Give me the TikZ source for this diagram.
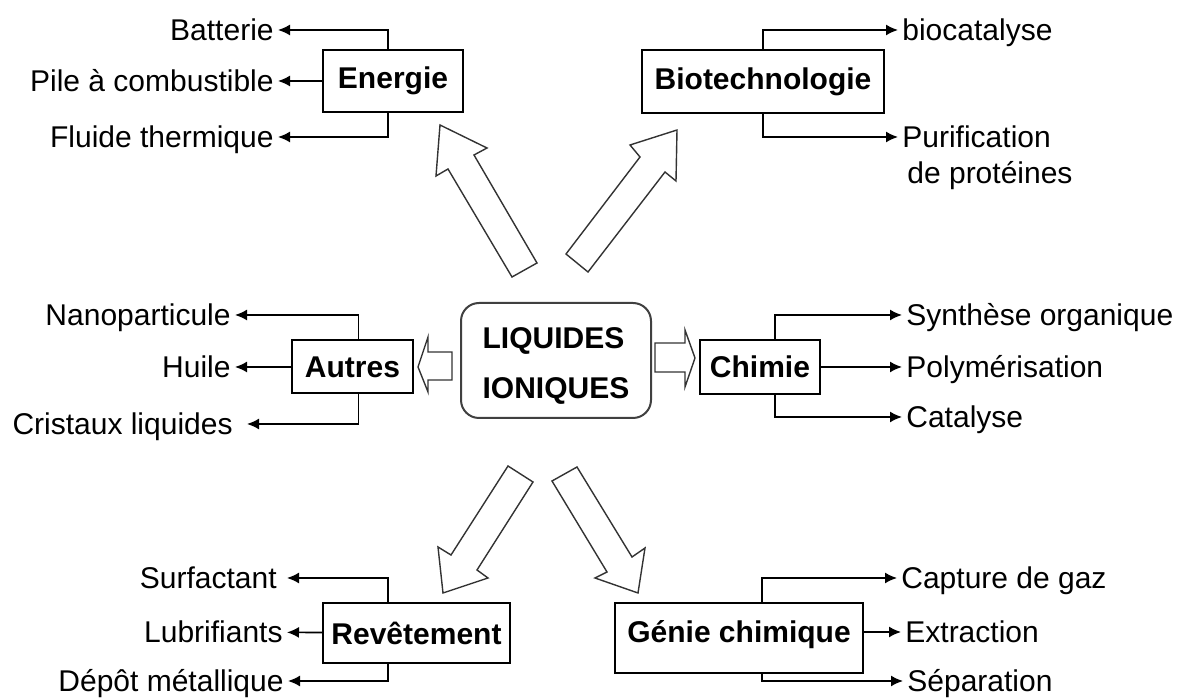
\documentclass[tikz,border=0pt]{standalone}
\usepackage{fontspec}
\setmainfont{Liberation Sans}
\usetikzlibrary{arrows.meta,positioning,calc}

\begin{document}
\begin{tikzpicture}
[x=.5pt,y=-.5pt,font=\fontsize{15}{18}\selectfont,
box/.style={draw,line width=1pt,font=\fontsize{15}{18}\selectfont\bfseries,inner sep=0pt},
lbl/.style={inner sep=2pt,text height=10.7pt,text depth=0pt},
branch/.style={line width=.8pt,-{Latex[length=6pt,width=5.5pt]}},
fat/.style={draw=black!80,line width=.7pt,fill=white,line join=miter}]
%%%%%%%%%%
\useasboundingbox (0,0) rectangle (1184,699);

% centre
\node[box,draw=black!75,rounded corners=9pt,minimum width=95pt,minimum height=57.5pt,
  align=left,font=\fontsize{15}{25}\selectfont\bfseries] (liq) at (556,360.5)
  {\rule{0pt}{16pt}LIQUIDES\\IONIQUES};

% boxes
\node[box,minimum width=70pt,minimum height=31pt] (energie) at (393,81) {Energie};
\node[box,minimum width=121pt,minimum height=31.5pt] (biotech) at (763,81.5) {Biotechnologie};
\node[box,minimum width=60.5pt,minimum height=26.5pt] (autres) at (352.5,367) {Autres};
\node[box,minimum width=60pt,minimum height=27pt] (chimie) at (760,367) {Chimie};
\node[box,minimum width=93.5pt,minimum height=30pt] (revet) at (416.5,633) {Revêtement};
\node[box,minimum width=124pt,minimum height=35pt,text height=10.7pt,text depth=6pt] (genie) at (739,638) {Génie chimique};

% labels
\node[lbl,anchor=east] (batterie) at (278,30) {Batterie};
\node[lbl,anchor=east] (pile) at (278,81) {Pile à combustible};
\node[lbl,anchor=east] (fluide) at (278,137) {Fluide thermique};

\node[lbl,anchor=west] (bio) at (898,30) {biocatalyse};
\node[lbl,anchor=west] (puri) at (898,137) {Purification};
\node[lbl,below right=2.8pt and 2.5pt of puri.south west] (prot) {de protéines};

\node[lbl,anchor=east] (nano) at (235,315) {Nanoparticule};
\node[lbl,anchor=east] (huile) at (235,367) {Huile};
\node[lbl,anchor=east] (cris) at (237,424) {Cristaux liquides};

\node[lbl,anchor=west] (synth) at (902,315) {Synthèse organique};
\node[lbl,anchor=west] (poly) at (902,367) {Polymérisation};
\node[lbl,anchor=west] (cata) at (902,417) {Catalyse};

\node[lbl,anchor=east] (surf) at (281,578) {Surfactant};
\node[lbl,anchor=east] (lubri) at (287,632) {Lubrifiants};
\node[lbl,anchor=east] (depot) at (288,681) {Dépôt métallique};

\node[lbl,anchor=west] (capt) at (897,578) {Capture de gaz};
\node[lbl,anchor=west] (extr) at (901,632) {Extraction};
\node[lbl,anchor=west] (sepa) at (903,681) {Séparation};

% branches
\draw[branch] ([xshift=-2.5pt]energie.north) |- (batterie);
\draw[branch] (energie) -- (pile);
\draw[branch] ([xshift=-2.5pt]energie.south) |- (fluide);

\draw[branch] (biotech.north) |- (bio);
\draw[branch] (biotech.south) |- (puri);

\draw[branch] ([xshift=3pt]autres.north) |- (nano);
\draw[branch] (autres) -- (huile);
\draw[branch,shorten >=5pt] ([xshift=3pt]autres.south) |- (cris);

\draw[branch] ([xshift=7.5pt]chimie.north) |- (synth);
\draw[branch] (chimie) -- (poly);
\draw[branch] ([xshift=7.5pt]chimie.south) |- (cata);

\draw[branch,shorten >=3pt] ([xshift=-14.25pt]revet.north) |- (surf);
\draw[branch] (revet) -- (lubri);
\draw[branch] ([xshift=-14.25pt]revet.south) |- (depot);

\draw[branch] ([xshift=11.5pt]genie.north) |- (capt);
\draw[branch] (genie.east |- extr) -- (extr);
\draw[branch] ([xshift=11.5pt]genie.south) |- (sepa);

% fat arrows
\draw[fat] (512,277) -- (448,169) -- (436,176) -- (440,125) -- (487,148) -- (474,155) -- (537,263) -- cycle;
\draw[fat] (566,254) -- (640,157) -- (630,145) -- (677,130) -- (676,181) -- (665,172) -- (588,272) -- cycle;
\draw[fat] (508,466) -- (451,555) -- (438,547) -- (443,593) -- (488,578) -- (477,570) -- (533,482) -- cycle;
\draw[fat] (552,481) -- (607,572) -- (595,578) -- (638,593) -- (645,548) -- (632,557) -- (577,467) -- cycle;
\draw[fat] (452,352) -- (428,352) -- (428,337) -- (418,367) -- (428,392) -- (428,380) -- (452,380) -- cycle;
\draw[fat] (655,343) -- (685,343) -- (685,330) -- (695,358) -- (685,387) -- (685,372) -- (655,372) -- cycle;
\end{tikzpicture}
\end{document}
